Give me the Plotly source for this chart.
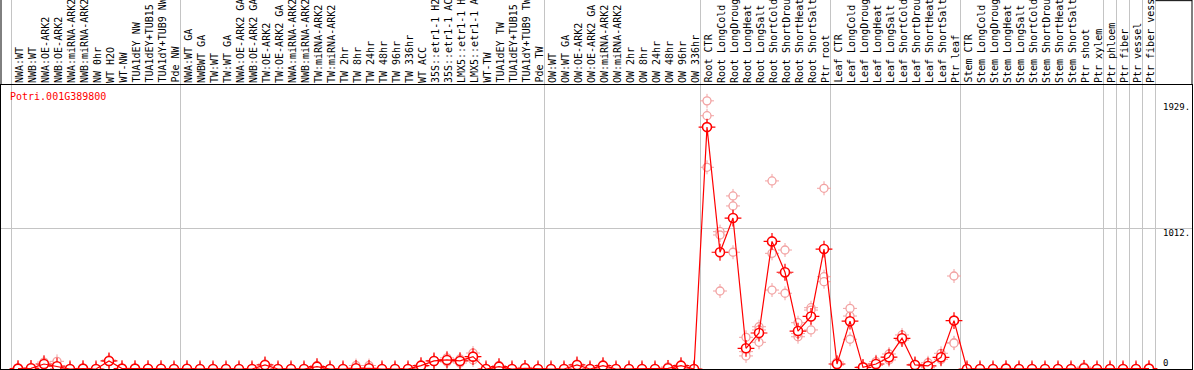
import plotly.graph_objects as go

# ---------------- data ----------------
labels_nw = ["NWA:WT", "NWB:WT", "NWA:OE-ARK2", "NWB:OE-ARK2", "NWA:miRNA-ARK2", "NWB:miRNA-ARK2",
             "NW 0hr", "WT H2O", "WT-NW", "TUA1dEY NW", "TUA1dEY+TUB15 NW", "TUA1dY+TUB9 NW", "Pde NW"]
labels_tw = ["NWA:WT GA", "NWBWT GA", "TW:WT", "TW:WT GA", "NWA:OE-ARK2 GA", "NWB:OE-ARK2 GA",
             "TW:OE-ARK2", "TW:OE-ARK2 GA", "NWA:miRNA-ARK2", "NWB:miRNA-ARK2", "TW:miRNA-ARK2",
             "TW:miRNA-ARK2", "TW 2hr", "TW 8hr", "TW 24hr", "TW 48hr", "TW 96hr", "TW 336hr", "WT ACC",
             "35S::etr1-1 H2O", "35S::etr1-1 ACC", "LMX5::etr1-1 H2O", "LMX5::etr1-1 ACC", "WT-TW",
             "TUA1dEY TW", "TUA1dEY+TUB15 TW", "TUA1dY+TUB9 TW", "Pde TW"]
labels_ow = ["OW:WT", "OW:WT GA", "OW:OE-ARK2", "OW:OE-ARK2 GA", "OW:miRNA-ARK2", "OW:miRNA-ARK2",
             "OW 2hr", "OW 8hr", "OW 24hr", "OW 48hr", "OW 96hr", "OW 336hr"]
labels_root = ["Root CTR", "Root LongCold", "Root LongDrought", "Root LongHeat", "Root LongSalt",
               "Root ShortCold", "Root ShortDrought", "Root ShortHeat", "Root ShortSalt", "Ptr root"]
labels_leaf = ["Leaf CTR", "Leaf LongCold", "Leaf LongDrought", "Leaf LongHeat", "Leaf LongSalt",
               "Leaf ShortCold", "Leaf ShortDrought", "Leaf ShortHeat", "Leaf ShortSalt", "Ptr leaf"]
labels_stem = ["Stem CTR", "Stem LongCold", "Stem LongDrought", "Stem LongHeat", "Stem LongSalt",
               "Stem ShortCold", "Stem ShortDrought", "Stem ShortHeat", "Stem ShortSalt", "Ptr shoot",
               "Ptr xylem"]
labels_single = ["Ptr phloem", "Ptr fiber", "Ptr vessel", "Ptr fiber vessel"]

groups = [labels_nw, labels_tw, labels_ow, labels_root, labels_leaf, labels_stem,
          [labels_single[0]], [labels_single[1]], [labels_single[2]], [labels_single[3]]]
labels = [l for g in groups for l in g]

mean_vals = (
    [3, 5, 36, 20, 0, 3, 0, 58, 3, 3, 2, 2, 0]
    + [2, 0, 0, 0, 0, 0, 29, 0, 0, 0, 17, 0, 0, 5, 5, 0, 0, 0, 24, 58, 65, 58, 89, 0, 17, 0, 5, 0]
    + [0, 0, 29, 0, 24, 0, 0, 0, 0, 5, 24, 0]
    + [1740, 840, 1086, 149, 259, 918, 696, 273, 378, 863]
    + [36, 344, 12, 36, 85, 221, 29, 22, 84, 348]
    + [0, 0, 0, 3, 0, 0, 0, 0, 0, 5, 0]
    + [0, 0, 0, 3]
)
rep_a = (
    [8, 10, 50, 55, 0, 5, 0, 65, 5, 5, 3, 3, 0]
    + [4, 0, 0, 0, 0, 0, 36, 0, 0, 0, 25, 0, 0, 25, 25, 0, 0, 0, 30, 62, 80, 72, 115, 0, 25, 0, 12, 0]
    + [0, 0, 35, 0, 30, 0, 0, 0, 0, 15, 30, 0]
    + [1929, 988, 1245, 228, 304, 1353, 856, 333, 441, 1300]
    + [50, 436, 15, 53, 108, 245, 35, 45, 113, 669]
    + [0, 0, 0, 5, 0, 0, 0, 0, 0, 15, 0]
    + [0, 0, 0, 5]
)
rep_b = (
    [2, 3, 30, 3, 0, 2, 0, 55, 2, 2, 2, 2, 0]
    + [1, 0, 0, 0, 0, 0, 28, 0, 0, 0, 15, 0, 0, 0, 0, 0, 0, 0, 24, 58, 66, 59, 87, 0, 17, 0, 2, 0]
    + [0, 0, 29, 0, 24, 0, 0, 0, 0, 0, 24, 0]
    + [1822, 964, 1173, 125, 281, 832, 545, 232, 424, 664]
    + [30, 381, 12, 30, 65, 209, 27, 12, 70, 189]
    + [0, 0, 0, 3, 0, 0, 0, 0, 0, 0, 0]
    + [0, 0, 0, 3]
)
rep_c = (
    [0, 2, 28, 2, 0, 2, 0, 54, 2, 2, 1, 1, 0]
    + [1, 0, 0, 0, 0, 0, 23, 0, 0, 0, 11, 0, 0, 0, 0, 0, 0, 0, 18, 54, 50, 43, 65, 0, 9, 0, 1, 0]
    + [0, 0, 23, 0, 18, 0, 0, 0, 0, 0, 18, 0]
    + [1451, 561, 840, 94, 192, 568, 687, 255, 281, 628]
    + [28, 214, 9, 25, 82, 209, 25, 9, 69, 186]
    + [0, 0, 0, 0, 0, 0, 0, 0, 0, 0, 0]
    + [0, 0, 0, 0]
)
ytick_vals = [0, 1012, 1929]
ytick_text = ["0", "1012.", "1929."]
gene_name = "Potri.001G389800"

# ---------------- figure ----------------
x = list(range(len(labels)))
RED = "#ff0000"
PINK = "#f2a2a2"
MONO = "DejaVu Sans Mono"

fig = go.Figure()

rx = x * 3
ry = rep_a + rep_b + rep_c
# replicate markers (ring with small ticks)
fig.add_trace(go.Scatter(x=rx, y=ry, mode="markers", cliponaxis=False, hoverinfo="skip",
                         marker=dict(symbol="cross-thin-open", size=10, color=PINK,
                                     line=dict(color=PINK, width=1))))
fig.add_trace(go.Scatter(x=rx, y=ry, mode="markers", cliponaxis=False, hoverinfo="skip",
                         marker=dict(symbol="circle", size=8, color="white",
                                     line=dict(color=PINK, width=1.3))))
# mean markers
fig.add_trace(go.Scatter(x=x, y=mean_vals, mode="markers", cliponaxis=False, hoverinfo="skip",
                         marker=dict(symbol="cross-thin-open", size=12, color=RED,
                                     line=dict(color=RED, width=1.2))))
fig.add_trace(go.Scatter(x=x, y=mean_vals, mode="markers", cliponaxis=False,
                         marker=dict(symbol="circle", size=9, color="white",
                                     line=dict(color=RED, width=1.6))))
# mean line
fig.add_trace(go.Scatter(x=x, y=mean_vals, mode="lines", cliponaxis=False,
                         line=dict(color=RED, width=1.2)))

# group separators
shapes = []
b = 0
bounds = [0]
for g in groups:
    b += len(g)
    bounds.append(b)
for bb in bounds:
    shapes.append(dict(type="line", xref="x", yref="paper", x0=bb - 0.5, x1=bb - 0.5, y0=0, y1=1.31,
                       line=dict(color="#c4c4c4", width=1), layer="below"))
# frame pieces above plot area
shapes.append(dict(type="line", xref="paper", yref="paper", x0=0, x1=0, y0=1, y1=1.31,
                   line=dict(color="black", width=1)))
shapes.append(dict(type="line", xref="paper", yref="paper", x0=1, x1=1, y0=1, y1=1.31,
                   line=dict(color="black", width=1)))
shapes.append(dict(type="line", xref="x", yref="paper", x0=bounds[-1] - 0.5, x1=90.4, y0=1.297, y1=1.297,
                   line=dict(color="black", width=1)))

annotations = [dict(text=gene_name, xref="paper", yref="paper", x=0.006, y=0.958, xanchor="left",
                    yanchor="middle", showarrow=False, font=dict(family=MONO, size=10, color=RED))]
# category labels, rotated, standing on the top edge of the plot
for xi, lab in zip(x, labels):
    annotations.append(dict(text=lab, xref="x", yref="paper", x=xi, y=1, xanchor="center",
                            yanchor="bottom", textangle=-90, xshift=1, yshift=0, showarrow=False,
                            font=dict(family=MONO, size=10, color="black")))
anchors = {0: "bottom", 1012: "top", 1929: "top"}
shifts = {0: -1, 1012: 2, 1929: 1}
for v, t in zip(ytick_vals, ytick_text):
    annotations.append(dict(text=t, xref="x", yref="y", x=87.9, y=v, xanchor="left",
                            yanchor=anchors[v], yshift=shifts[v],
                            showarrow=False, font=dict(family=MONO, size=9, color="black")))

fig.update_layout(
    width=1194, height=370,
    margin=dict(l=1, r=2, t=85, b=1, pad=0),
    paper_bgcolor="white", plot_bgcolor="white",
    showlegend=False,
    shapes=shapes, annotations=annotations,
    xaxis=dict(side="top", range=[-1.3077, 90.3077], showticklabels=False, ticks="",
               showgrid=False, zeroline=False, showline=True, mirror=True, linecolor="black",
               linewidth=1, automargin=False),
    yaxis=dict(range=[0, 2043], tickmode="array", tickvals=[1012], showticklabels=False,
               showgrid=True, gridcolor="#c4c4c4", gridwidth=1, zeroline=False, showline=True,
               mirror=True, linecolor="black", linewidth=1, ticks="", automargin=False),
)

fig.write_html("out.html", config={"displayModeBar": False},
               post_script="document.body.style.margin='0px';")
